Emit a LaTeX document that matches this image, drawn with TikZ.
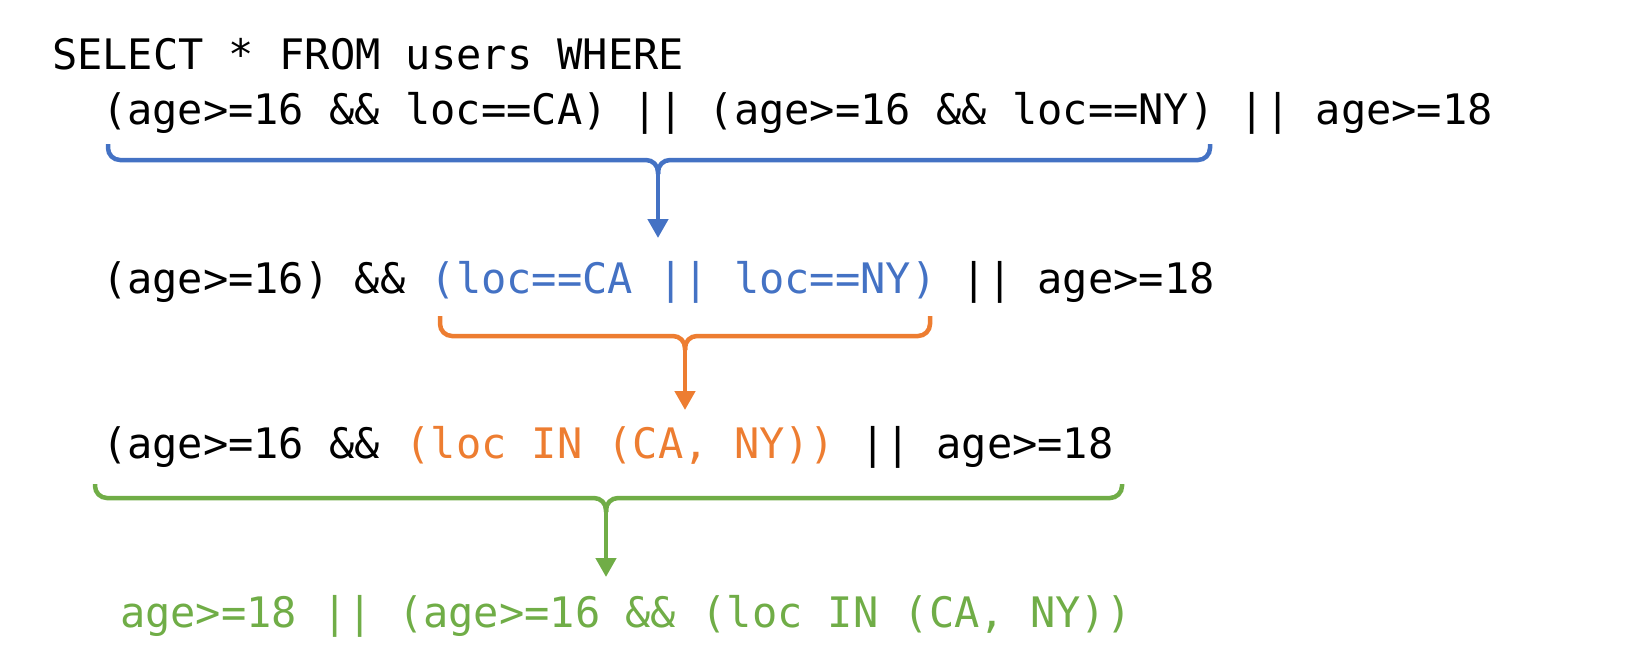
\documentclass[tikz,border=0pt]{standalone}
\usepackage{fontspec}
\newfontfamily\codefont{DejaVu Sans Mono}
\usetikzlibrary{
  positioning,
  arrows.meta,
  calc
}
\definecolor{qblue}{HTML}{4472C4}
\definecolor{qorange}{HTML}{ED7D31}
\definecolor{qgreen}{HTML}{70AD47}
\tikzset{
  >={Triangle[width=20pt,length=19pt]},
  code/.style={
    anchor=base west,
    inner sep=0pt,
    outer sep=0pt,
    font=\codefont\fontsize{42}{50}\selectfont
  },
  brace/.style={line width=4.5pt, rounded corners=12pt}
}

\begin{document}
\begin{tikzpicture}[x=1pt,y=-1pt]
\useasboundingbox (0,0) rectangle (1652,662);
% query lines
\node[code] (sel) at (52,69) {SELECT * FROM users WHERE};
\node[code] (l2a) at (102,124) {(age>=16 \&\& loc==CA) || (age>=16 \&\& loc==NY)};
\node[code] (l2b) at (l2a.base east) {\ || age>=18};
\node[code] (l3a) at (102,293) {(age>=16) \&\&};
\node[code, text=qblue] (l3b) at (l3a.base east) {\ (loc==CA || loc==NY)};
\node[code] (l3c) at (l3b.base east) {\ || age>=18};
\node[code] (l4a) at (102,458) {(age>=16 \&\&};
\node[code, text=qorange] (l4b) at (l4a.base east) {\ (loc IN (CA, NY))};
\node[code] (l4c) at (l4b.base east) {\ || age>=18};
\node[code, text=qgreen] (l5) at (120,627) {age>=18 || (age>=16 \&\& (loc IN (CA, NY))};
% braces
\coordinate (b1-l) at (108,144);
\coordinate (b1-r) at (1210,144);
\coordinate (b1-m) at (658,160);
\coordinate (b1-t) at (658,238);
\coordinate (b2-l) at (440,316);
\coordinate (b2-r) at (930,316);
\coordinate (b2-m) at (685,336);
\coordinate (b2-t) at (685,410);
\coordinate (b3-l) at (95,484);
\coordinate (b3-r) at (1122,484);
\coordinate (b3-m) at (606,498);
\coordinate (b3-t) at (606,577);
\foreach \b/\col in {b1/qblue, b2/qorange, b3/qgreen} {
  \draw[brace, \col] (\b-l) |- (\b-m) -- ++(0,14);
  \draw[brace, \col] (\b-r) |- (\b-m) -- ++(0,14);
  \draw[brace, \col, ->] ($(\b-m)+(0,12)$) -- (\b-t);
}
\end{tikzpicture}
\end{document}
